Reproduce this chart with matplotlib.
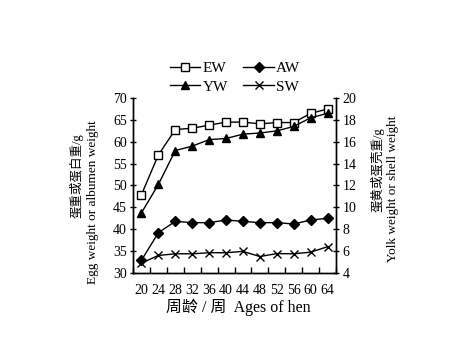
import matplotlib
matplotlib.use("Agg")
import matplotlib.pyplot as plt
import numpy as np

plt.rcParams['font.family'] = ['Liberation Serif', 'Noto Sans CJK SC']

# ages of hen (weeks)
ages = [20, 24, 28, 32, 36, 40, 44, 48, 52, 56, 60, 64]

# left axis: egg weight / albumen weight (g)
ew = [47.9, 57.0, 62.8, 63.1, 63.8, 64.5, 64.5, 64.1, 64.4, 64.4, 66.5, 67.5]
aw = [32.9, 39.2, 41.8, 41.5, 41.5, 42.1, 41.8, 41.5, 41.5, 41.2, 42.1, 42.5]

# right axis: yolk weight / shell weight (g)
yw = [9.5, 12.1, 15.2, 15.6, 16.2, 16.3, 16.7, 16.8, 17.0, 17.4, 18.2, 18.6]
sw = [4.9, 5.6, 5.75, 5.75, 5.85, 5.85, 5.97, 5.5, 5.77, 5.75, 5.9, 6.4]

fig = plt.figure(figsize=(4.7, 3.54), dpi=100)
ax = fig.add_axes([0.283, 0.229, 0.432, 0.494])
ax2 = ax.twinx()

x = np.arange(len(ages))

l1, = ax.plot(x, ew, color="black", lw=1, marker="s", ms=5.5,
              mfc="white", mec="black", mew=1, label="EW")
l2, = ax.plot(x, aw, color="black", lw=1, marker="D", ms=5,
              mfc="black", mec="black", label="AW")
l3, = ax2.plot(x, yw, color="black", lw=1, marker="^", ms=6,
               mfc="black", mec="black", label="YW")
l4, = ax2.plot(x, sw, color="black", lw=1, marker="x", ms=6,
               mew=1, label="SW")

ax.set_xlim(-0.5, len(ages) - 0.5)
ax.set_ylim(30, 70)
ax2.set_ylim(4, 20)
ax.set_yticks(range(30, 71, 5))
ax2.set_yticks(range(4, 21, 2))

# category axis: labels centred, ticks between categories
ax.set_xticks(x)
ax.set_xticklabels([str(a) for a in ages])
ax.set_xticks(np.arange(-0.5, len(ages)), minor=True)
ax.tick_params(axis="x", which="major", length=0, pad=8, labelsize=10)
ax.tick_params(axis="x", which="minor", direction="in", length=4, width=1)
ax.tick_params(axis="y", direction="inout", length=5, width=1, labelsize=10, pad=2)
ax2.tick_params(axis="y", direction="inout", length=5, width=1, labelsize=10, pad=2)

for a in (ax, ax2):
    a.spines["top"].set_visible(False)
    for s in ("left", "right", "bottom"):
        a.spines[s].set_linewidth(1)

# axis titles
fig.text(0.162, 0.505, "蛋重或蛋白重/g", rotation=90, ha="center", va="center", fontsize=9)
fig.text(0.198, 0.43, "Egg weight or albumen weight", rotation=90, ha="center", va="center", fontsize=9.5)
fig.text(0.804, 0.52, "蛋黄或蛋壳重/g", rotation=90, ha="center", va="center", fontsize=9)
fig.text(0.836, 0.466, "Yolk weight or shell weight", rotation=90, ha="center", va="center", fontsize=9.5)
fig.text(0.508, 0.133, "周龄 / 周  Ages of hen", ha="center", va="center", fontsize=11.5)

fig.legend([l1, l3, l2, l4], ["EW", "YW", "AW", "SW"], ncol=2, loc="center",
           bbox_to_anchor=(0.5, 0.781), frameon=False, fontsize=11,
           handlelength=2.0, handletextpad=0.15, columnspacing=1.0, labelspacing=0.3)

fig.savefig("out.png", dpi=100)
